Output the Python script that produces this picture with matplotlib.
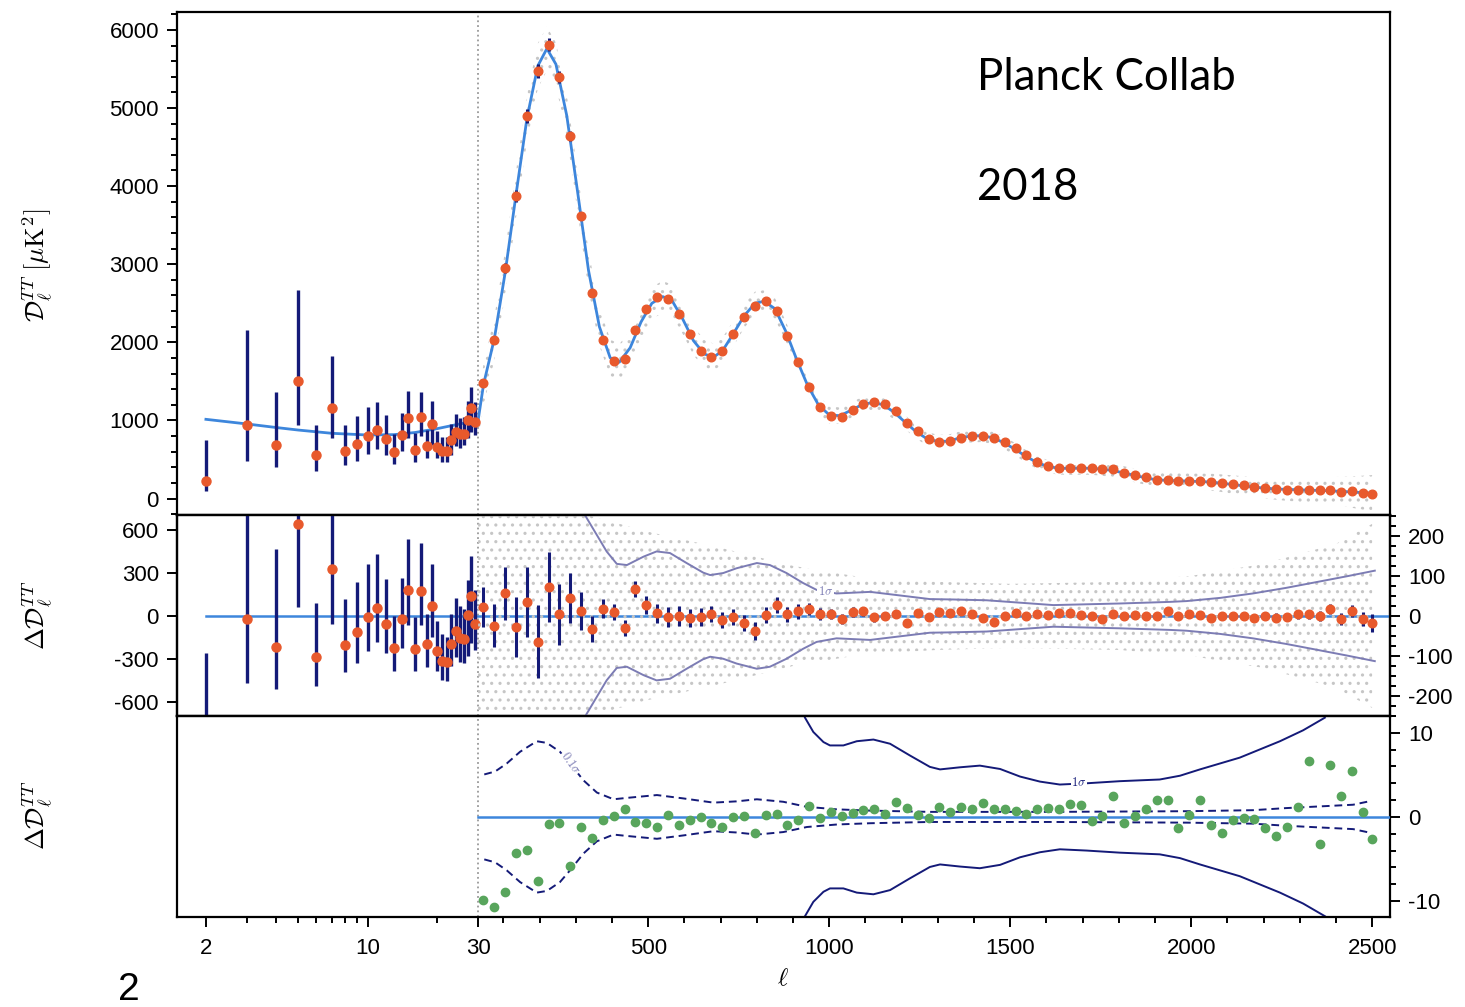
import numpy as np
import matplotlib.pyplot as plt
from matplotlib.ticker import FixedLocator, MultipleLocator, NullFormatter

plt.rcParams['mathtext.fontset'] = 'cm'
plt.rcParams['font.family'] = ['Liberation Sans', 'DejaVu Sans']
plt.rcParams['axes.unicode_minus'] = False
plt.rcParams['hatch.linewidth'] = 1.1

# ---- low-ell (2..29) points, top panel: D_ell and error bar ends
ell_low = np.arange(2, 30)
D_low = [221, 937, 690, 1509, 558, 1155, 614, 699, 806, 874, 767, 601, 810, 1032,
         622, 1045, 678, 955, 665, 605, 605, 750, 848, 827, 831, 1010, 1155, 981]
D_low_lo = [93, 486, 400, 937, 358, 776, 426, 486, 575, 635, 563, 448, 605, 776,
            469, 797, 515, 682, 520, 469, 469, 554, 678, 648, 682, 776, 848, 810]
D_low_hi = [754, 2152, 1360, 2664, 937, 1829, 937, 1052, 1176, 1240, 1074, 831, 1096, 1377,
            840, 1368, 882, 1244, 861, 784, 784, 950, 1083, 1032, 1045, 1253, 1428, 1240]

# low-ell residuals (middle panel, left axis)
res_low = [-793, -18, -214, 642, -284, 331, -200, -113, -6, 60, -53, -223, -20, 186,
           -226, 179, -195, 69, -240, -310, -321, -193, -100, -153, -158, 8, 139, -51]
res_low_lo = [-921, -469, -509, 62, -486, -53, -392, -329, -240, -181, -258, -385, -223, -58,
              -380, -60, -352, -142, -383, -446, -453, -347, -282, -321, -324, -277, -188, -235]
res_low_hi = [-260, 1198, 470, 1785, 93, 1003, 123, 240, 366, 432, 258, 4, 270, 537,
              -8, 514, 15, 362, -36, -125, -142, 18, 128, 69, 50, 256, 420, 186]

# ---- high-ell binned points (bins of 30 from ell=30)
ell_bin = np.append(np.arange(44.5, 2480, 30), 2499)
D_bin = [1483, 2033, 2955, 3877, 4901, 5478, 5811, 5393, 4641, 3613, 2631, 2033, 1757, 1790,
         2161, 2426, 2576, 2558, 2362, 2102, 1887, 1814, 1889, 2102, 2320, 2469, 2525, 2401,
         2085, 1744, 1424, 1175, 1060, 1047, 1129, 1214, 1232, 1206, 1117, 967, 864, 758,
         727, 732, 771, 804, 804, 777, 723, 643, 553, 471, 412, 387, 387, 387, 391, 374,
         373, 330, 297, 271, 237, 237, 228, 228, 220, 211, 199, 186, 169, 143, 131, 122,
         113, 113, 109, 109, 109, 83, 96, 66, 58]
res_bin = [22, -24, 56, -28, 35, -64, 73, 4, 45, 12, -32, 18, 9, -31, 67, 27, 6, -2, 0, -6,
           -2, 4, -10, -2, -17, -37, 2, 27, 4, 11, 17, 5, 5, -8, 9, 11, -3, 0, 5, -17, 7, -3,
           10, 8, 11, 5, -6, -14, 0, 6, 0, 5, 2, 6, 7, 2, 1, -7, 5, 0, 2, 0, 1, 11, 1, 4, 2,
           -5, 1, 0, 0, -4, 0, -4, -2, 4, 4, 0, 17, -8, 13, -8, -17]
err_bin = [50, 53, 65, 75, 87, 90, 87, 76, 62, 47, 33, 24, 20, 20, 21, 23, 23, 25, 25, 22,
           22, 20, 20, 20, 20, 22, 20, 20, 18, 18, 15, 14, 13, 12, 12, 11, 11, 10, 10, 10,
           8, 8, 8, 8, 8, 8, 8, 8, 8, 8, 8, 8, 8, 8, 8, 8, 8, 8, 8, 8, 8, 8, 8, 8, 8, 8, 8,
           8, 8, 8, 8, 9, 9, 10, 10, 11, 11, 12, 13, 14, 15, 18, 22]
# bottom panel (green points)
res2_bin = [-9.9, -10.7, -8.9, -4.25, -3.9, -7.65, -0.8, -0.7, -5.8, -1.2, -2.5, -0.4, 0.1,
            1.0, -0.6, -0.7, -1.2, 0.24, -1.0, -0.4, 0.0, -0.7, -1.2, 0.0, 0.1, -1.9, 0.2,
            0.3, -1.0, -0.4, 1.3, -0.1, 0.6, 0.15, 0.5, 0.8, 1.0, 0.3, 1.8, 1.1, 0.2, -0.1,
            1.15, 0.55, 1.2, 0.9, 1.6, 0.9, 0.9, 0.7, 0.35, 0.9, 1.1, 1.0, 1.55, 1.4, -0.5,
            0.1, 2.45, -0.7, 0.1, 0.9, 2.0, 2.0, -1.3, 0.2, 2.05, -1.0, -1.9, -0.4, -0.1,
            -0.3, -1.3, -2.25, -1.2, 1.2, 6.65, -3.2, 6.15, 2.5, 5.45, 0.6, -2.65]

# ---- best-fit theory curve
ell_th = [2, 3, 4, 5, 7, 10, 13, 16, 20, 25, 30, 45, 75, 105, 135, 165, 195, 220, 245, 275,
          305, 335, 365, 395, 420, 450, 480, 510, 540, 565, 595, 625, 655, 680, 705, 735,
          765, 795, 820, 850, 880, 910, 940, 970, 1000, 1030, 1060, 1090, 1120, 1150, 1180,
          1210, 1240, 1270, 1300, 1330, 1360, 1390, 1420, 1450, 1480, 1510, 1540, 1570,
          1600, 1630, 1660, 1690, 1720, 1750, 1780, 1810, 1840, 1870, 1900, 1930, 1960,
          1990, 2020, 2050, 2080, 2110, 2140, 2170, 2200, 2230, 2260, 2290, 2320, 2350,
          2380, 2410, 2440, 2470, 2500]
D_th = [1014, 955, 910, 877, 835, 813, 818, 845, 895, 955, 1000, 1460, 2050, 2900, 3900,
        4870, 5540, 5760, 5560, 4900, 3920, 2920, 2200, 1800, 1745, 1930, 2260, 2500, 2585,
        2540, 2300, 2020, 1850, 1810, 1890, 2110, 2340, 2500, 2525, 2430, 2140, 1780, 1450,
        1200, 1070, 1060, 1130, 1200, 1230, 1200, 1100, 975, 855, 765, 730, 735, 775, 800,
        805, 780, 720, 640, 550, 470, 415, 390, 385, 388, 388, 378, 360, 332, 300, 270,
        242, 233, 228, 224, 218, 212, 198, 182, 165, 148, 134, 124, 117, 113, 108, 104,
        99, 92, 84, 76, 70]

# spread of the unbinned data (half width, muK^2)
ell_sp = [30, 150, 300, 500, 700, 900, 1100, 1300, 1500, 1800, 2000, 2200, 2400, 2500]
spread = [260, 300, 260, 210, 170, 125, 95, 85, 80, 85, 100, 130, 180, 230]

# 1 sigma envelope, middle panel (right axis)
ell_s1 = [325, 358, 385, 413, 441, 487, 523, 560, 606, 652, 671, 707, 744, 800, 836, 882,
          928, 965, 1020, 1113, 1205, 1278, 1343, 1435, 1527, 1619, 1803, 1941, 1987, 2080,
          2170, 2262, 2355, 2430, 2507]
sig1 = [252, 202, 161, 130, 127, 148, 161, 157, 132, 108, 102, 107, 119, 132, 127, 107,
        82, 65, 56, 60, 50, 42, 41, 39, 33, 27, 31, 35, 37, 45, 56, 70, 86, 99, 113]
# bottom panel envelopes
ell_b1 = [933, 956, 984, 1002, 1039, 1076, 1122, 1168, 1223, 1278, 1306, 1361, 1416, 1472,
          1527, 1582, 1637, 1711, 1803, 1913, 1969, 2024, 2134, 2245, 2309, 2369]
sig1_b = [11.8, 10.1, 8.9, 8.5, 8.5, 9.0, 9.2, 8.7, 7.3, 5.95, 5.65, 5.9, 6.1, 5.7, 4.8,
          4.2, 3.85, 4.0, 4.25, 4.45, 4.9, 5.65, 7.05, 9.0, 10.3, 11.8]
ell_b01 = [47, 77, 109, 146, 192, 220, 256, 284, 321, 358, 404, 450, 524, 597, 680, 744,
           800, 873, 938, 1021, 1113, 1278, 1619, 1987, 2170, 2262, 2355, 2447, 2491]
sig01_b = [5.05, 5.4, 6.35, 7.75, 9.0, 8.8, 7.75, 6.35, 4.35, 2.9, 2.1, 2.3, 2.6, 2.2, 1.7,
           1.85, 2.1, 1.8, 1.2, 0.9, 0.75, 0.6, 0.6, 0.68, 0.8, 1.05, 1.25, 1.45, 1.85]

ORANGE = '#e8592c'
NAVY = '#141a78'
BLUE = '#3d86dc'
GREEN = '#58a55c'
SIGC = '#7c7cb4'
CLOUD = '#c6c6c6'

# hybrid x axis: log below 30, linear above
A, B = 231.5, 0.3621


def fwd(x):
    x = np.asarray(x, dtype=float)
    return np.where(x < 30, A * np.log10(np.maximum(x, 1e-6) / 30.0), (x - 30) * B)


def inv(y):
    y = np.asarray(y, dtype=float)
    return np.where(y < 0, 30 * 10 ** (np.minimum(y, 0) / A), 30 + y / B)


fig = plt.figure(figsize=(14.65, 10.07), dpi=100)
L, W = 177 / 1465, (1390 - 177) / 1465


def ax_at(t, b):
    ax = fig.add_axes([L, 1 - b / 1007, W, (b - t) / 1007])
    ax.set_xscale('function', functions=(fwd, inv))
    ax.set_xlim(1.5, 2549)
    for s in ax.spines.values():
        s.set_linewidth(1.6)
    ax.tick_params(which='both', direction='out', width=1.4, labelsize=16, pad=6)
    ax.tick_params(which='major', length=7)
    ax.tick_params(which='minor', length=4.5)
    ax.xaxis.set_major_locator(FixedLocator([2, 10, 30, 500, 1000, 1500, 2000, 2500]))
    ax.xaxis.set_minor_locator(FixedLocator([3, 4, 5, 6, 7, 8, 9, 20] +
                                            [v for v in range(100, 2500, 100) if v % 500]))
    ax.xaxis.set_minor_formatter(NullFormatter())
    ax.axvline(30, color='#999999', ls=':', lw=1.3, zorder=1)
    return ax


ax1 = ax_at(12, 515)
ax2 = ax_at(515, 716)
ax3 = ax_at(716, 917)
for ax in (ax1, ax2):
    ax.tick_params(axis='x', which='both', bottom=False, labelbottom=False)

ell_th_a = np.array(ell_th, float)
D_th_a = np.array(D_th, float)
hi = ell_th_a >= 30
sp_th = np.interp(ell_th_a[hi], ell_sp, spread)

# ---- top panel
ax1.fill_between(ell_th_a[hi], D_th_a[hi] - sp_th, D_th_a[hi] + sp_th, facecolor='none',
                 edgecolor=CLOUD, hatch='..', linewidth=0, zorder=1)
ax1.plot(ell_th, D_th, color=BLUE, lw=2.0, zorder=3)
D_low_a = np.array(D_low, float)
ax1.errorbar(ell_low, D_low, yerr=[D_low_a - D_low_lo, np.array(D_low_hi) - D_low_a],
             fmt='o', color=ORANGE, ms=6.5, ecolor=NAVY, elinewidth=2.4, capsize=0, zorder=4)
ax1.errorbar(ell_bin, D_bin, yerr=err_bin, fmt='o', color=ORANGE, ms=6.2, ecolor=NAVY,
             elinewidth=2.2, capsize=0, zorder=4)
ax1.set_ylim(-211, 6229)
ax1.yaxis.set_major_locator(MultipleLocator(1000))
ax1.yaxis.set_minor_locator(MultipleLocator(200))

# ---- middle panel
ax2.set_ylim(-698, 708)
ax2.set_yticks([-600, -300, 0, 300, 600])
ax2.axhline(0, xmin=(206 - 177) / 1213, color=BLUE, lw=1.8, zorder=3)
res_low_a = np.array(res_low, float)
ax2.errorbar(ell_low, res_low, yerr=[res_low_a - res_low_lo, np.array(res_low_hi) - res_low_a],
             fmt='o', color=ORANGE, ms=6.5, ecolor=NAVY, elinewidth=2.4, capsize=0, zorder=4)
ax2r = ax2.twinx()
for s in ax2r.spines.values():
    s.set_linewidth(1.6)
ax2r.set_ylim(-250, 252)
ax2r.yaxis.set_major_locator(MultipleLocator(100))
ax2r.yaxis.set_minor_locator(MultipleLocator(25))
ax2r.tick_params(which='both', direction='out', width=1.4, labelsize=16, pad=6)
ax2r.tick_params(which='major', length=7)
ax2r.tick_params(which='minor', length=4.5)
sp_a = np.array(spread, float)
ax2r.fill_between(ell_sp, -sp_a, sp_a, facecolor='none', edgecolor=CLOUD,
                  hatch='..', linewidth=0, zorder=1)
sig1_a = np.array(sig1, float)
ax2r.plot(ell_s1, sig1_a, color=SIGC, lw=1.4, zorder=2)
ax2r.plot(ell_s1, -sig1_a, color=SIGC, lw=1.4, zorder=2)
ax2r.text(990, 60, r'$1\sigma$', fontsize=9, color=SIGC, ha='center', va='center',
          bbox=dict(fc='white', ec='none', pad=0.5), zorder=2)
ax2r.errorbar(ell_bin, res_bin, yerr=err_bin, fmt='o', color=ORANGE, ms=6.2, ecolor=NAVY,
              elinewidth=2.2, capsize=0, zorder=4)

# ---- bottom panel
ax3.set_ylim(-11.9, 12.0)
ax3.yaxis.tick_right()
ax3.yaxis.set_major_locator(MultipleLocator(10))
ax3.yaxis.set_minor_locator(MultipleLocator(2))
ax3.axhline(0, xmin=(478 - 177) / 1213, color=BLUE, lw=1.8, zorder=3)
s1b = np.array(sig1_b, float)
ax3.plot(ell_b1, s1b, color=NAVY, lw=1.4)
ax3.plot(ell_b1, -s1b, color=NAVY, lw=1.4)
s01b = np.array(sig01_b, float)
ax3.plot(ell_b01, s01b, color=NAVY, lw=1.4, ls=(0, (4, 2.5)))
ax3.plot(ell_b01, -s01b, color=NAVY, lw=1.4, ls=(0, (4, 2.5)))
ax3.text(1690, 4.1, r'$1\sigma$', fontsize=9, color=NAVY, ha='center', va='center',
         bbox=dict(fc='white', ec='none', pad=0.5))
ax3.text(285, 6.4, r'$0.1\sigma$', fontsize=9, color=SIGC, ha='center', va='center',
         rotation=-55, bbox=dict(fc='white', ec='none', pad=0.3))
ax3.plot(ell_bin, res2_bin, 'o', color=GREEN, ms=6, zorder=4)
ax3.tick_params(axis='x', which='major', pad=8)

# ---- labels and slide text
fig.text(37 / 1465, 1 - 265 / 1007, r'$\mathcal{D}^{TT}_{\ell}\;[\mu{\rm K}^2]$',
         rotation=90, fontsize=19, ha='center', va='center')
fig.text(37 / 1465, 1 - 615 / 1007, r'$\Delta\mathcal{D}^{TT}_{\ell}$',
         rotation=90, fontsize=19, ha='center', va='center')
fig.text(37 / 1465, 1 - 815 / 1007, r'$\Delta\mathcal{D}^{TT}_{\ell}$',
         rotation=90, fontsize=19, ha='center', va='center')
fig.text(783 / 1465, 1 - 978 / 1007, r'$\ell$', fontsize=18, ha='center', va='center')
fig.text(977 / 1465, 1 - 78 / 1007, 'Planck Collab', fontsize=31.5, family='Lato',
         ha='left', va='center')
fig.text(977 / 1465, 1 - 188 / 1007, '2018', fontsize=31.5, family='Lato',
         ha='left', va='center')
fig.text(118 / 1465, 1 - 990 / 1007, '2', fontsize=28, family='Liberation Sans',
         ha='left', va='center')

fig.savefig('out.png', dpi=100)
